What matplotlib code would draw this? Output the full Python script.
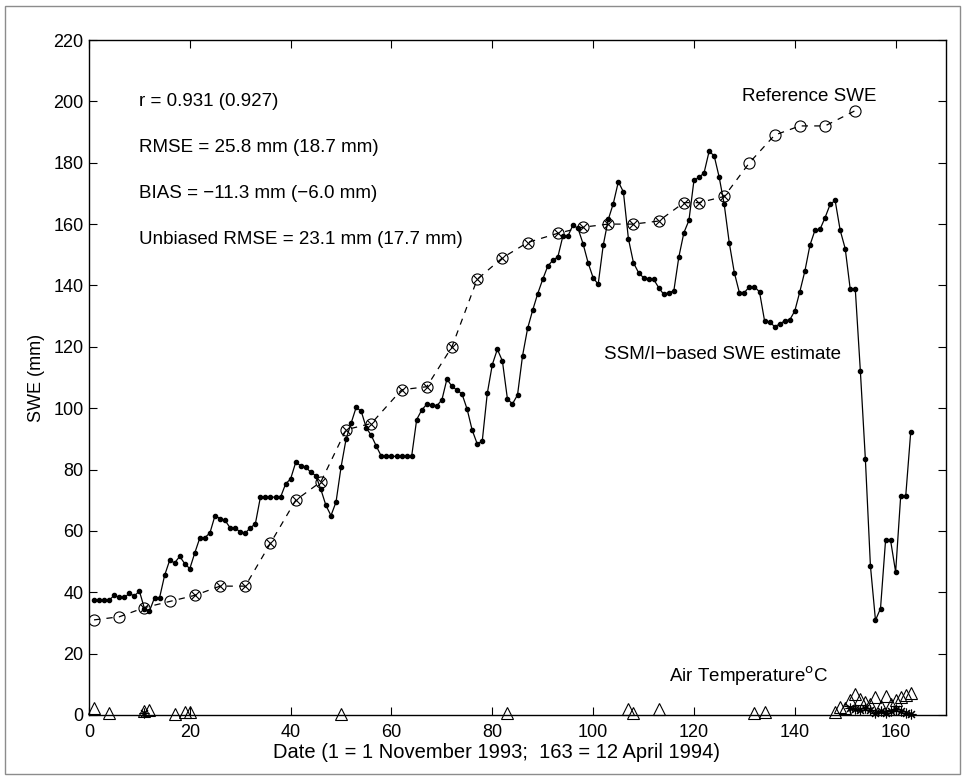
import matplotlib
matplotlib.use("Agg")
import matplotlib.pyplot as plt
from matplotlib.patches import Rectangle

plt.rcParams["font.family"] = ["Liberation Sans", "DejaVu Sans"]

# Daily SSM/I-based SWE estimate (mm), days 1..163
ssmi_days = list(range(1, 164))
ssmi_swe = [
    37.4, 37.4, 37.4, 37.4, 39.0, 38.3, 38.3, 39.6, 38.8, 40.4,
    34.7, 33.9, 38.2, 38.2, 45.5, 50.4, 49.6, 51.7, 49.3, 47.7,
    52.9, 57.8, 57.8, 59.4, 65.0, 64.0, 63.4, 61.0, 61.0, 59.6,
    59.3, 61.0, 62.3, 71.0, 71.0, 71.0, 71.0, 71.0, 75.3, 77.0,
    82.3, 81.3, 80.8, 79.1, 78.0, 73.5, 68.3, 65.0, 69.4, 80.8,
    90.0, 95.2, 100.3, 99.0, 93.6, 91.1, 87.6, 84.3, 84.3, 84.3,
    84.3, 84.3, 84.3, 84.3, 96.3, 99.4, 101.3, 101.1, 100.8, 102.7,
    109.5, 107.1, 105.9, 104.6, 99.7, 92.9, 88.4, 89.2, 104.8, 114.2,
    119.2, 115.4, 103.0, 101.4, 104.3, 117.1, 126.0, 131.9, 137.3, 142.0,
    146.3, 148.2, 149.3, 156.1, 156.1, 159.7, 158.6, 153.6, 147.4, 142.5,
    140.4, 153.1, 161.5, 166.7, 173.8, 170.5, 155.2, 147.4, 144.2, 142.5,
    142.2, 142.0, 139.3, 137.1, 137.7, 138.2, 149.3, 157.2, 161.2, 174.3,
    175.2, 176.7, 183.7, 182.3, 175.3, 166.4, 153.9, 144.2, 137.7, 137.7,
    139.6, 139.6, 137.9, 128.5, 128.1, 126.6, 127.4, 128.5, 128.8, 131.7,
    138.0, 144.7, 153.1, 158.0, 158.3, 162.1, 166.4, 167.7, 158.0, 152.0,
    138.7, 138.7, 112.2, 83.3, 48.6, 30.9, 34.7, 56.9, 56.9, 46.6,
    71.3, 71.3, 92.4,
]

# Reference SWE (mm) from snow courses
ref_days = [1, 6, 11, 16, 21, 26, 31, 36, 41, 46, 51, 56, 62, 67, 72, 77,
            82, 87, 93, 98, 103, 108, 113, 118, 121, 126, 131, 136, 141,
            146, 152]
ref_swe = [31, 32, 35, 37, 39, 42, 42, 56, 70, 76, 93, 95, 106, 107, 120,
           142, 149, 154, 157, 159, 160, 160, 161, 167, 167, 169, 180, 189,
           192, 192, 197]
# reference days flagged with a cross inside the circle
ref_flag_days = [11, 21, 26, 31, 36, 41, 46, 51, 56, 62, 67, 72, 77, 82,
                 87, 93, 98, 103, 108, 113, 118, 121, 126]

# Air temperature (°C)
tri_days = [1, 4, 11, 12, 17, 19, 20, 50, 83, 107, 108, 113, 132, 134,
            148, 149, 150, 151, 152, 153, 154, 155, 156, 157, 158, 159,
            160, 161, 162, 163]
tri_temp = [2.2, 0.8, 1.4, 1.6, 0.3, 1.1, 1.1, 0.3, 0.5, 1.9, 0.5, 1.9,
            0.5, 1.1, 0.9, 2.7, 2.4, 4.9, 6.7, 5.1, 4.3, 3.5, 6.0, 3.0,
            6.2, 3.5, 4.9, 6.0, 6.5, 7.3]
ast_days = [11, 151, 152, 153, 154, 155, 156, 157, 158, 159, 160, 161,
            162, 163]
ast_temp = [0.5, 2.3, 2.0, 1.6, 2.2, 1.5, 0.8, 1.2, 0.5, 1.4, 1.8, 1.3,
            0.6, 0.3]

stats_lines = [
    "r = 0.931 (0.927)",
    "RMSE = 25.8 mm (18.7 mm)",
    "BIAS = \u221211.3 mm (\u22126.0 mm)",
    "Unbiased RMSE = 23.1 mm (17.7 mm)",
]
stats_y = [200, 185, 170, 155]

fig = plt.figure(figsize=(9.63, 7.77), dpi=100)
fig.patches.append(Rectangle((0.005, 0.004), 0.992, 0.988, transform=fig.transFigure,
                             fill=False, edgecolor="#8c8c8c", lw=1.0))
ax = fig.add_axes([0.0924, 0.0798, 0.890, 0.8687])

# SSM/I estimate: solid line with small dots
ax.plot(ssmi_days, ssmi_swe, "-", color="black", lw=0.9,
        marker="o", ms=3.0, mfc="black", mec="black")

# reference SWE: dashed line with open circles
ax.plot(ref_days, ref_swe, color="black", lw=0.9, dashes=(5, 5),
        marker="o", ms=8, mfc="none", mec="black", mew=0.8)
flag_vals = [ref_swe[ref_days.index(d)] for d in ref_flag_days]
ax.plot(ref_flag_days, flag_vals, ls="none", marker="x", ms=5.5,
        mec="black", mew=0.8)

# air temperature
ax.plot(tri_days, tri_temp, ls="none", marker="^", ms=9, mfc="none",
        mec="black", mew=0.8, clip_on=False)
ax.plot(ast_days, ast_temp, ls="none", marker=(8, 2, 0), ms=7,
        mec="black", mew=0.8, clip_on=False)

fs = 13.5
for s, y in zip(stats_lines, stats_y):
    ax.text(10, y, s, fontsize=fs, ha="left", va="center")
ax.text(129.5, 201.5, "Reference SWE", fontsize=fs, ha="left", va="center")
ax.text(102.2, 117.4, "SSM/I\u2212based SWE estimate", fontsize=fs,
        ha="left", va="center")
ax.text(115, 12.5, r"Air Temperature$^{\mathrm{o}}$C", fontsize=fs,
        ha="left", va="center")

ax.set_xlim(0, 170)
ax.set_ylim(0, 220)
ax.set_xticks(range(0, 161, 20))
ax.set_yticks(range(0, 221, 20))
ax.tick_params(direction="in", length=6, width=0.8, labelsize=13,
               top=True, right=True, pad=4)
ax.tick_params(axis="x", pad=6.5)
for sp in ax.spines.values():
    sp.set_linewidth(1.0)
ax.set_xlabel("Date (1 = 1 November 1993;  163 = 12 April 1994)",
              fontsize=14.5)
ax.xaxis.label.set_va("center")
ax.xaxis.set_label_coords(0.475, -0.0563)
ax.set_ylabel("SWE (mm)", fontsize=13, labelpad=6)

fig.savefig("out.png", dpi=100)
